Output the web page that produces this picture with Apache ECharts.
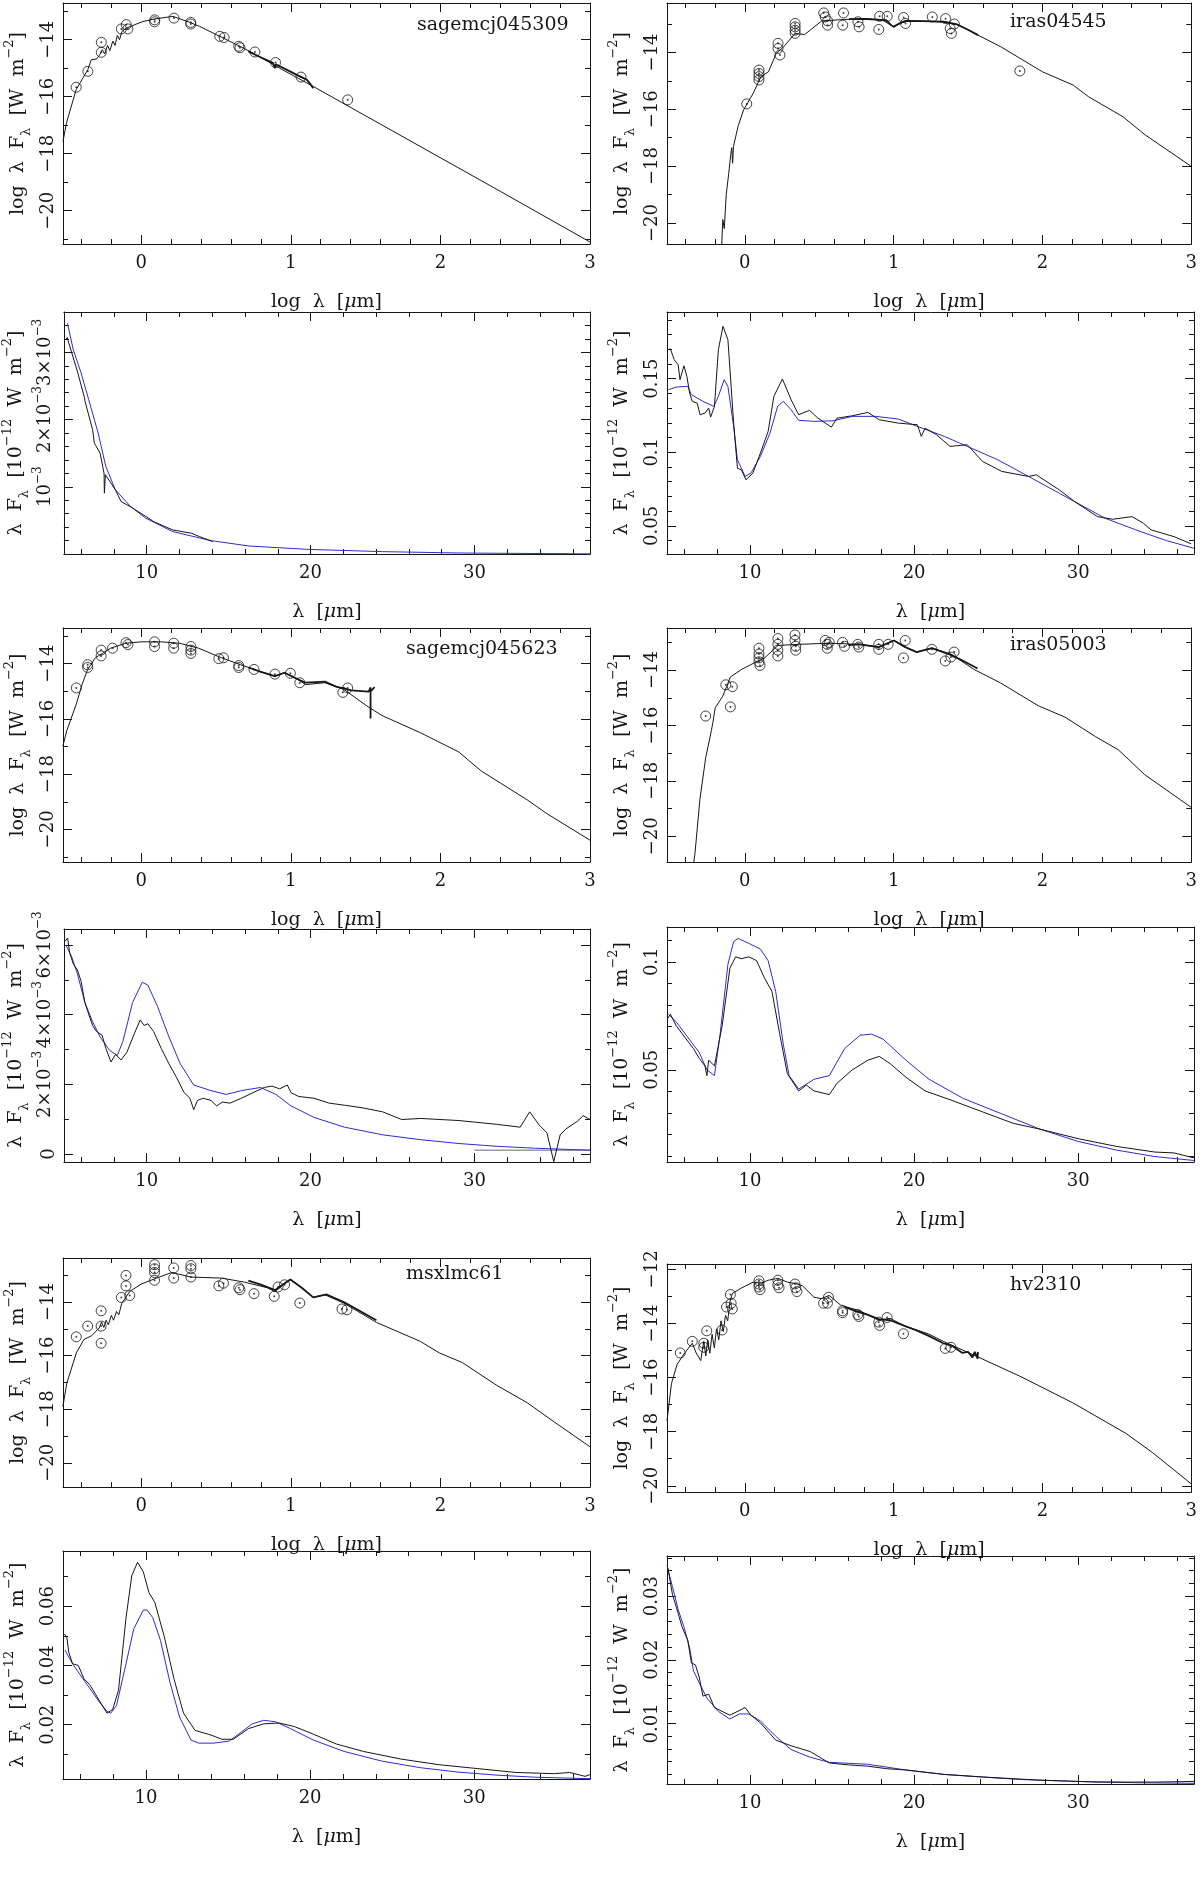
<!DOCTYPE html>
<html>
<head>
<meta charset="utf-8">
<script src="https://cdn.jsdelivr.net/npm/echarts@6/dist/echarts.min.js"></script>
<style>
  html, body { margin: 0; background: #fff; }
  #chart { width: 1200px; height: 1887px; }
</style>
</head>
<body>
<div id="chart"></div>
<script>
// ---------- sagemcj045309 ----------
const sed045309Model = [[-0.523,-17.57],[-0.50,-16.92],[-0.435,-15.75],[-0.357,-15.05],[-0.334,-14.70],[-0.30,-14.68],[-0.28,-14.55],[-0.26,-14.35],[-0.245,-14.5],[-0.225,-14.2],[-0.21,-14.38],[-0.19,-14.05],[-0.175,-14.2],[-0.16,-13.85],[-0.145,-14.0],[-0.13,-13.72],[-0.10,-13.59],[0.011,-13.36],[0.09,-13.27],[0.212,-13.18],[0.324,-13.39],[0.39,-13.53],[0.525,-13.88],[0.659,-14.23],[0.748,-14.47],[0.905,-14.94],[1.15,-15.64],[2.40,-19.32],[3.0,-21.1]];
const sed045309Spec = [[0.715,-14.41],[0.78,-14.57],[0.85,-14.74],[0.882,-14.82],[0.893,-15.0],[0.90,-14.86],[0.994,-15.11],[1.05,-15.26],[1.106,-15.40],[1.13,-15.55],[1.15,-15.70]];
const sed045309Phot = [[-0.435,-15.67],[-0.357,-15.11],[-0.267,-14.09],[-0.267,-14.44],[-0.133,-13.62],[-0.10,-13.47],[-0.089,-13.62],[0.09,-13.30],[0.09,-13.37],[0.219,-13.24],[0.331,-13.39],[0.331,-13.45],[0.525,-13.88],[0.554,-13.92],[0.652,-14.23],[0.66,-14.28],[0.760,-14.43],[0.898,-14.80],[1.068,-15.31],[1.38,-16.11]];
const irs045309Obs = [[5.07,3.19e-3],[5.15,3.22e-3],[5.42,3.0e-3],[5.77,2.72e-3],[6.2,2.33e-3],[6.23,2.28e-3],[6.70,1.85e-3],[6.81,1.65e-3],[7.16,1.50e-3],[7.40,1.2e-3],[7.42,0.905e-3],[7.48,1.18e-3],[8.09,0.955e-3],[8.44,0.78e-3],[9.03,0.70e-3],[9.96,0.557e-3],[10.42,0.483e-3],[11.59,0.358e-3],[12.75,0.308e-3],[13.22,0.259e-3],[14.03,0.184e-3]];
const irs045309Fit = [[5.17,3.43e-3],[5.52,3.04e-3],[5.99,2.70e-3],[6.46,2.30e-3],[7.04,1.80e-3],[7.51,1.30e-3],[8.09,0.955e-3],[9.02,0.706e-3],[9.95,0.532e-3],[11.59,0.333e-3],[13.92,0.199e-3],[16.25,0.119e-3],[19.74,0.070e-3],[24.4,0.035e-3],[29.07,0.015e-3],[37.05,0.002e-3]];

// ---------- iras04545 ----------
const sed04545Model = [[-0.157,-21.0],[-0.154,-20.6],[-0.148,-19.88],[-0.138,-20.2],[-0.125,-19.0],[-0.115,-18.95],[-0.108,-18.25],[-0.095,-17.6],[-0.088,-17.35],[-0.082,-17.9],[-0.076,-17.3],[-0.046,-16.61],[-0.008,-16.02],[0.056,-15.44],[0.108,-14.85],[0.159,-14.68],[0.21,-14.04],[0.261,-13.80],[0.338,-13.33],[0.402,-13.37],[0.517,-12.89],[0.671,-12.84],[0.824,-12.81],[0.927,-12.87],[1.0,-13.10],[1.08,-12.89],[1.336,-12.92],[1.439,-13.04],[1.567,-13.39],[1.72,-13.80],[2.0,-14.68],[2.207,-15.15],[2.31,-15.56],[2.54,-16.26],[2.69,-16.90],[3.0,-18.01]];
const sed04545Spec = [[0.70,-12.83],[0.80,-12.82],[0.90,-12.85],[0.95,-12.86],[0.98,-13.02],[1.0,-13.10],[1.03,-13.0],[1.08,-12.89],[1.2,-12.9],[1.336,-12.92],[1.42,-13.0],[1.5,-13.2],[1.567,-13.39]];
const sed04545Phot = [[0.013,-15.81],[0.095,-14.62],[0.095,-14.74],[0.095,-14.85],[0.095,-14.97],[0.223,-13.68],[0.223,-13.86],[0.236,-14.09],[0.338,-12.98],[0.338,-13.10],[0.338,-13.22],[0.338,-13.33],[0.53,-12.61],[0.54,-12.75],[0.556,-12.89],[0.556,-13.04],[0.658,-13.04],[0.663,-12.61],[0.76,-12.92],[0.768,-13.10],[0.90,-13.19],[0.906,-12.73],[0.957,-12.73],[1.067,-12.77],[1.08,-12.98],[1.26,-12.75],[1.349,-12.81],[1.38,-13.16],[1.388,-13.33],[1.408,-13.0],[1.848,-14.65]];
const irs04545Obs = [[5.0,0.1697],[5.16,0.1702],[5.39,0.1629],[5.63,0.1595],[5.74,0.1493],[5.98,0.1588],[6.16,0.1516],[6.33,0.1402],[6.49,0.1346],[6.79,0.1334],[6.96,0.1255],[7.26,0.1266],[7.49,0.1300],[7.61,0.1239],[7.84,0.1312],[8.08,0.1697],[8.36,0.1856],[8.66,0.1765],[9.01,0.1198],[9.24,0.0892],[9.48,0.0881],[9.76,0.0813],[10.18,0.0858],[10.64,0.0994],[11.11,0.1142],[11.46,0.1380],[11.98,0.1498],[12.51,0.1357],[12.97,0.1255],[13.63,0.1285],[14.14,0.1232],[14.96,0.1171],[15.31,0.1232],[16.24,0.1248],[17.18,0.1271],[17.88,0.1221],[19.04,0.1198],[20.2,0.1187],[20.44,0.1108],[20.67,0.1164],[21.37,0.1119],[22.19,0.1040],[23.24,0.1051],[24.17,0.0938],[25.34,0.0870],[26.97,0.0836],[27.44,0.0847],[28.84,0.0745],[29.77,0.0666],[31.17,0.0563],[32.1,0.0545],[33.27,0.0563],[33.97,0.0518],[34.43,0.0473],[35.83,0.0427],[36.88,0.0378]];
const irs04545Fit = [[5.04,0.1425],[5.51,0.1443],[6.21,0.1448],[6.44,0.1391],[7.14,0.1346],[7.80,0.1312],[8.08,0.1380],[8.43,0.1493],[8.66,0.1448],[9.01,0.1176],[9.24,0.0949],[9.71,0.0836],[10.06,0.0858],[10.64,0.0972],[11.22,0.1130],[11.69,0.1312],[12.04,0.1346],[12.51,0.1289],[12.97,0.1217],[13.91,0.1210],[15.07,0.1214],[16.24,0.1244],[17.64,0.1244],[19.04,0.1226],[20.2,0.1176],[21.84,0.1108],[23.24,0.1040],[25.1,0.0949],[26.97,0.0836],[28.84,0.0722],[30.7,0.0609],[31.63,0.0552],[33.5,0.0473],[35.37,0.0400],[37.05,0.0348]];

// ---------- sagemcj045623 ----------
const sed045623Model = [[-0.524,-16.99],[-0.498,-16.43],[-0.434,-15.46],[-0.396,-14.76],[-0.358,-14.21],[-0.307,-13.79],[-0.204,-13.44],[-0.102,-13.26],[0,-13.21],[0.128,-13.21],[0.256,-13.26],[0.383,-13.44],[0.537,-13.79],[0.665,-14.04],[0.792,-14.28],[0.894,-14.46],[0.958,-14.32],[1.022,-14.49],[1.099,-14.76],[1.227,-14.69],[1.354,-14.93],[1.508,-15.53],[1.61,-15.88],[1.866,-16.5],[2.121,-17.19],[2.274,-17.89],[2.58,-18.93],[2.709,-19.42],[3.0,-20.39]];
const sed045623Spec = [[0.716,-14.14],[0.80,-14.3],[0.894,-14.45],[0.958,-14.33],[1.022,-14.5],[1.099,-14.69],[1.227,-14.65],[1.303,-14.83],[1.405,-14.97],[1.52,-15.01],[1.533,-14.86],[1.533,-15.99],[1.533,-15.0],[1.56,-14.85]];
const sed045623Phot = [[-0.434,-14.88],[-0.358,-14.04],[-0.358,-14.14],[-0.268,-13.51],[-0.268,-13.72],[-0.192,-13.44],[-0.102,-13.24],[-0.089,-13.31],[0.089,-13.21],[0.089,-13.38],[0.217,-13.26],[0.217,-13.44],[0.332,-13.38],[0.332,-13.51],[0.332,-13.63],[0.519,-13.82],[0.55,-13.79],[0.652,-14.07],[0.652,-14.14],[0.754,-14.21],[0.894,-14.38],[0.997,-14.35],[1.06,-14.69],[1.348,-15.04],[1.38,-14.88]];
const irs045623Obs = [[5.02,6.11e-3],[5.18,6.2e-3],[5.3,5.78e-3],[5.53,5.45e-3],[5.77,5.29e-3],[6.0,4.96e-3],[6.23,4.35e-3],[6.46,4.02e-3],[6.7,3.69e-3],[6.93,3.52e-3],[7.28,3.41e-3],[7.51,3.03e-3],[7.82,2.64e-3],[8.1,2.86e-3],[8.44,2.70e-3],[8.79,2.92e-3],[9.26,3.47e-3],[9.61,3.85e-3],[9.84,3.69e-3],[10.07,3.74e-3],[10.42,3.52e-3],[10.89,3.03e-3],[11.36,2.59e-3],[11.82,2.20e-3],[12.29,1.76e-3],[12.64,1.60e-3],[12.87,1.27e-3],[13.1,1.54e-3],[13.45,1.60e-3],[13.92,1.54e-3],[14.27,1.38e-3],[14.62,1.49e-3],[15.08,1.46e-3],[15.78,1.60e-3],[16.48,1.76e-3],[17.18,1.91e-3],[17.65,1.95e-3],[18.11,1.87e-3],[18.58,1.98e-3],[18.81,1.76e-3],[19.28,1.65e-3],[20.21,1.60e-3],[21.14,1.46e-3],[22.07,1.40e-3],[23.24,1.32e-3],[24.4,1.21e-3],[25.56,0.99e-3],[26.73,1.02e-3],[29.06,0.96e-3],[31.39,0.85e-3],[32.79,0.77e-3],[33.37,1.21e-3],[33.95,0.83e-3],[34.42,0.61e-3],[34.84,-0.22e-3],[35.23,0.55e-3],[35.58,0.72e-3],[36.28,0.94e-3],[36.63,1.10e-3],[37.05,0.99e-3]];
const irs045623Fit = [[5.07,6.0e-3],[5.42,5.67e-3],[5.77,5.18e-3],[6.23,4.35e-3],[6.7,3.80e-3],[7.16,3.36e-3],[7.75,2.97e-3],[8.21,2.83e-3],[8.56,3.25e-3],[9.14,4.35e-3],[9.73,4.93e-3],[10.07,4.85e-3],[10.66,4.24e-3],[11.36,3.36e-3],[12.05,2.59e-3],[12.87,1.98e-3],[13.92,1.82e-3],[14.85,1.71e-3],[15.78,1.82e-3],[16.95,1.91e-3],[17.88,1.71e-3],[18.81,1.38e-3],[20.21,1.05e-3],[22.07,0.77e-3],[24.4,0.55e-3],[26.73,0.41e-3],[29.06,0.30e-3],[31.39,0.22e-3],[33.72,0.165e-3],[37.05,0.11e-3]];
const irs045623Base = [[30.0,0.11e-3],[37.05,0.11e-3]];

// ---------- iras05003 ----------
const sed05003Model = [[-0.345,-21.0],[-0.335,-20.62],[-0.302,-18.68],[-0.263,-17.16],[-0.225,-16.19],[-0.215,-15.9],[-0.199,-15.36],[-0.148,-14.94],[-0.097,-14.25],[-0.02,-13.97],[0.056,-13.76],[0.133,-13.56],[0.222,-13.11],[0.363,-13.07],[0.567,-13.03],[0.772,-13.07],[0.9,-13.17],[1.002,-12.93],[1.078,-13.17],[1.155,-13.35],[1.257,-13.21],[1.385,-13.42],[1.538,-13.97],[1.717,-14.46],[1.973,-15.29],[2.152,-15.70],[2.356,-16.40],[2.51,-16.88],[2.688,-17.78],[3.0,-18.96]];
const sed05003Spec = [[0.695,-13.1],[0.772,-13.07],[0.9,-13.17],[1.002,-12.93],[1.078,-13.17],[1.155,-13.35],[1.257,-13.21],[1.385,-13.45],[1.45,-13.62],[1.564,-13.94]];
const sed05003Phot = [[-0.263,-15.66],[-0.128,-14.53],[-0.084,-14.60],[-0.097,-15.33],[0.095,-13.21],[0.095,-13.42],[0.095,-13.56],[0.095,-13.70],[0.102,-13.83],[0.222,-12.86],[0.222,-13.07],[0.222,-13.28],[0.222,-13.49],[0.337,-12.73],[0.337,-12.93],[0.342,-13.14],[0.342,-13.28],[0.54,-12.93],[0.554,-13.07],[0.554,-13.21],[0.567,-13.0],[0.657,-13.0],[0.67,-13.14],[0.759,-13.07],[0.766,-13.17],[0.9,-13.07],[0.9,-13.25],[0.963,-13.07],[1.066,-13.56],[1.078,-12.93],[1.257,-13.25],[1.347,-13.67],[1.385,-13.53],[1.406,-13.35]];
const irs05003Obs = [[5.0,0.0739],[5.16,0.0757],[5.51,0.0704],[5.86,0.0668],[6.21,0.0633],[6.56,0.0598],[6.91,0.0553],[7.26,0.0518],[7.38,0.0473],[7.49,0.0544],[7.84,0.0518],[8.31,0.0704],[8.78,0.0970],[9.13,0.1023],[9.48,0.1014],[9.94,0.1023],[10.41,0.1005],[10.88,0.0926],[11.34,0.0863],[11.81,0.0668],[12.28,0.0482],[12.97,0.0402],[13.44,0.0429],[13.91,0.0402],[14.84,0.0385],[15.31,0.0438],[16.24,0.050],[17.18,0.0544],[17.88,0.0562],[18.57,0.0527],[19.51,0.0465],[20.67,0.0402],[22.31,0.0358],[24.17,0.0305],[26.04,0.0252],[27.67,0.0225],[30.0,0.0181],[32.34,0.0145],[34.67,0.0119],[35.83,0.0115],[37.05,0.0092]];
const irs05003Fit = [[5.04,0.0757],[5.51,0.0722],[6.21,0.0651],[6.91,0.0580],[7.38,0.050],[7.84,0.0473],[8.19,0.0668],[8.66,0.0988],[9.01,0.1094],[9.29,0.1108],[9.94,0.1085],[10.64,0.1059],[11.11,0.1005],[11.57,0.0863],[12.04,0.0615],[12.39,0.0473],[12.97,0.0411],[13.91,0.0456],[14.84,0.0473],[15.77,0.0598],[16.71,0.0660],[17.41,0.0665],[18.11,0.0642],[19.51,0.0544],[20.91,0.0456],[23.0,0.0367],[25.34,0.0296],[27.67,0.0225],[30.0,0.0168],[32.34,0.0128],[34.67,0.0098],[37.05,0.0080]];

// ---------- msxlmc61 ----------
const sedLmc61Model = [[-0.524,-17.9],[-0.498,-17.04],[-0.434,-15.9],[-0.383,-15.4],[-0.332,-15.26],[-0.281,-14.97],[-0.265,-14.75],[-0.25,-14.95],[-0.235,-14.68],[-0.22,-14.85],[-0.2,-14.5],[-0.185,-14.68],[-0.165,-14.35],[-0.15,-14.48],[-0.13,-14.05],[-0.1,-13.8],[-0.077,-13.61],[0,-13.33],[0.102,-13.11],[0.204,-12.9],[0.332,-13.07],[0.537,-13.11],[0.69,-13.26],[0.843,-13.47],[0.894,-13.61],[0.997,-13.16],[1.073,-13.47],[1.15,-13.83],[1.227,-13.73],[1.354,-14.04],[1.572,-14.76],[1.866,-15.47],[1.993,-15.9],[2.147,-16.26],[2.377,-17.11],[2.581,-17.76],[2.76,-18.47],[3.0,-19.4]];
const sedLmc61Spec = [[0.716,-13.2],[0.80,-13.35],[0.894,-13.56],[0.94,-13.38],[0.997,-13.16],[1.073,-13.47],[1.15,-13.83],[1.24,-13.72],[1.354,-14.0],[1.45,-14.3],[1.572,-14.68]];
const sedLmc61Phot = [[-0.434,-15.3],[-0.358,-14.9],[-0.268,-14.33],[-0.268,-14.9],[-0.268,-15.54],[-0.133,-13.83],[-0.102,-13.01],[-0.102,-13.4],[-0.077,-13.76],[0.089,-12.61],[0.089,-12.76],[0.089,-12.9],[0.089,-13.19],[0.217,-12.73],[0.217,-13.11],[0.332,-12.64],[0.332,-12.76],[0.332,-13.07],[0.519,-13.4],[0.55,-13.3],[0.652,-13.47],[0.66,-13.54],[0.754,-13.69],[0.889,-13.79],[0.915,-13.44],[0.958,-13.36],[1.06,-14.04],[1.342,-14.26],[1.375,-14.29]];
const irsLmc61Obs = [[5.02,0.0506],[5.18,0.0497],[5.3,0.0445],[5.53,0.0406],[5.88,0.040],[6.23,0.0355],[6.58,0.0335],[6.93,0.0303],[7.28,0.0271],[7.63,0.0239],[7.98,0.0252],[8.33,0.0316],[8.79,0.0561],[9.14,0.0703],[9.49,0.0748],[9.84,0.0716],[10.19,0.0645],[10.54,0.0613],[11.12,0.0497],[11.71,0.0355],[12.29,0.0239],[12.99,0.0181],[13.8,0.0168],[14.03,0.0164],[14.62,0.0151],[15.32,0.0151],[16.25,0.0187],[17.18,0.0203],[18.11,0.0206],[19.04,0.0194],[20.21,0.0168],[21.6,0.0135],[23.24,0.011],[25.56,0.0084],[27.89,0.0065],[30.22,0.0052],[32.55,0.0039],[34.88,0.0035],[35.81,0.0039],[36.75,0.0026],[37.05,0.0032]];
const irsLmc61Fit = [[5.07,0.0452],[5.53,0.0406],[6.0,0.0368],[6.58,0.0323],[7.16,0.0277],[7.63,0.0245],[7.86,0.0239],[8.21,0.0265],[8.79,0.0406],[9.26,0.0523],[9.84,0.0587],[10.07,0.0587],[10.42,0.0561],[10.89,0.0484],[11.47,0.0342],[12.05,0.0226],[12.75,0.0148],[13.22,0.0138],[14.15,0.0138],[15.08,0.0145],[15.78,0.0174],[16.48,0.0203],[17.18,0.0215],[17.88,0.021],[18.81,0.0187],[20.21,0.0148],[22.07,0.011],[24.4,0.0077],[26.73,0.0055],[29.06,0.004],[31.39,0.003],[33.72,0.0023],[37.05,0.0018]];

// ---------- hv2310 ----------
const sedHv2310Model = [[-0.523,-17.6],[-0.493,-16.22],[-0.455,-15.51],[-0.404,-15.09],[-0.353,-14.73],[-0.327,-15.09],[-0.296,-15.37],[-0.276,-14.66],[-0.262,-15.2],[-0.25,-14.6],[-0.235,-15.1],[-0.22,-14.4],[-0.205,-14.9],[-0.19,-14.2],[-0.175,-14.6],[-0.16,-13.9],[-0.145,-14.3],[-0.13,-13.7],[-0.115,-13.9],[-0.1,-13.2],[-0.084,-12.89],[-0.02,-12.68],[0.056,-12.47],[0.107,-12.51],[0.159,-12.4],[0.222,-12.33],[0.286,-12.47],[0.35,-12.54],[0.388,-12.61],[0.465,-13.03],[0.516,-13.08],[0.567,-12.96],[0.644,-13.32],[0.772,-13.53],[0.9,-13.88],[0.976,-13.81],[1.078,-14.1],[1.232,-14.38],[1.334,-14.66],[1.564,-15.23],[1.845,-15.94],[2.203,-16.93],[2.56,-18.06],[2.739,-18.77],[3.0,-19.93]];
const sedHv2310Spec = [[0.67,-13.39],[0.75,-13.55],[0.823,-13.67],[0.9,-13.84],[0.976,-13.88],[1.078,-14.1],[1.15,-14.25],[1.232,-14.45],[1.334,-14.73],[1.4,-14.85],[1.462,-15.09],[1.5,-15.05],[1.53,-15.25],[1.545,-15.05],[1.564,-15.3],[1.566,-15.05]];
const sedHv2310Phot = [[-0.434,-15.09],[-0.353,-14.66],[-0.276,-14.73],[-0.276,-14.88],[-0.256,-14.27],[-0.153,-14.24],[-0.123,-13.39],[-0.097,-12.93],[-0.092,-13.25],[-0.084,-13.46],[0.095,-12.42],[0.095,-12.54],[0.095,-12.65],[0.102,-12.75],[0.222,-12.4],[0.222,-12.57],[0.23,-12.68],[0.337,-12.54],[0.342,-12.68],[0.35,-12.82],[0.529,-13.25],[0.555,-13.25],[0.562,-13.03],[0.657,-13.53],[0.657,-13.6],[0.759,-13.67],[0.766,-13.74],[0.9,-13.95],[0.906,-14.07],[0.956,-13.78],[1.066,-14.38],[1.347,-14.92],[1.385,-14.88]];
const irsHv2310Obs = [[5.0,0.0345],[5.28,0.0303],[5.63,0.0273],[5.86,0.0252],[6.21,0.0231],[6.44,0.0195],[6.68,0.0192],[6.91,0.0173],[7.14,0.0143],[7.49,0.0146],[7.84,0.0125],[8.78,0.0113],[9.48,0.0122],[9.71,0.0125],[10.06,0.0113],[10.64,0.0101],[11.57,0.0074],[12.51,0.0065],[13.67,0.0056],[14.84,0.0038],[16.01,0.0035],[17.17,0.0033],[18.34,0.0029],[19.5,0.0027],[21.84,0.002],[24.17,0.0016],[27.67,0.0011],[31.17,0.0008],[34.67,0.0008],[37.05,0.0009]];
const irsHv2310Fit = [[4.95,0.0348],[5.28,0.0315],[5.63,0.0279],[5.98,0.0252],[6.33,0.0219],[6.56,0.0183],[6.91,0.0164],[7.38,0.014],[8.08,0.0119],[8.78,0.0107],[9.36,0.0115],[9.94,0.0115],[10.64,0.0104],[11.57,0.008],[12.51,0.0059],[13.67,0.0047],[14.84,0.0039],[17.17,0.0036],[19.5,0.0027],[21.84,0.002],[24.17,0.0016],[26.5,0.0012],[30.0,0.0009],[33.5,0.0007],[37.05,0.0006]];

// tick label values
const sedXLabels = [0, 1, 2, 3];
const irsXLabels = [10, 20, 30];

const FONT = 'DejaVu Serif';
const INK = '#161616';
const BLUE = '#2c2cd6';

function steps(a, b, s) {
  const out = [];
  const n = Math.round((b - a) / s);
  for (let i = 0; i <= n; i++) out.push(+(a + i * s).toFixed(6));
  return out;
}
function without(arr, rem) {
  return arr.filter(v => !rem.some(r => Math.abs(r - v) < 1e-9));
}
const neg = v => (v < 0 ? '\u2212' : '') + Math.abs(v);
const sci = v => {
  if (Math.abs(v) < 1e-12) return '0';
  const m = Math.round(v * 1000);
  return m === 1 ? '{b|10}{s|\u22123}' : '{b|' + m + '\u00d710}{s|\u22123}';
};

const cols = [{ left: 63, width: 527 }, { left: 667, width: 527 }];

const sedXMajor = sedXLabels;
const sedXMinor = without(steps(-0.4, 2.8, 0.2), sedXMajor);
const irsXMajor = irsXLabels;
const irsXMinor = without(steps(6, 36, 2), irsXMajor);

const panels = [
  { kind: 'sed', col: 0, top: 3, height: 241, y: [-21.17, -12.71], yMajor: [-20, -18, -16, -14], yMinor: [-21, -19, -17, -15, -13], name: 'sagemcj045309', namePos: [354, 25], model: sed045309Model, spec: sed045309Spec, phot: sed045309Phot },
  { kind: 'sed', col: 1, top: 3, height: 241, y: [-20.74, -12.26], yMajor: [-20, -18, -16, -14], yMinor: [-19, -17, -15, -13], name: 'iras04545', namePos: [343, 22], model: sed04545Model, spec: sed04545Spec, phot: sed04545Phot },
  { kind: 'irs', col: 0, top: 312, height: 242, y: [0, 3.6e-3], yMajor: [0, 1e-3, 2e-3, 3e-3], yLabels: [1e-3, 2e-3, 3e-3], yMinor: without(steps(0, 3.6e-3, 2e-4), [0, 1e-3, 2e-3, 3e-3]), fmt: sci, obs: irs045309Obs, fit: irs045309Fit },
  { kind: 'irs', col: 1, top: 312, height: 242, y: [0.0309, 0.1953], yMajor: [0.05, 0.1, 0.15], yLabels: [0.05, 0.1, 0.15], yMinor: without(steps(0.04, 0.19, 0.01), [0.05, 0.1, 0.15]), fmt: String, obs: irs04545Obs, fit: irs04545Fit },
  { kind: 'sed', col: 0, top: 628, height: 234, y: [-21.18, -12.71], yMajor: [-20, -18, -16, -14], yMinor: [-21, -19, -17, -15, -13], name: 'sagemcj045623', namePos: [343, 24], model: sed045623Model, spec: sed045623Spec, phot: sed045623Phot },
  { kind: 'sed', col: 1, top: 628, height: 234, y: [-20.93, -12.48], yMajor: [-20, -18, -16, -14], yMinor: [-19, -17, -15, -13], name: 'iras05003', namePos: [343, 20], model: sed05003Model, spec: sed05003Spec, phot: sed05003Phot },
  { kind: 'irs', col: 0, top: 929, height: 233, y: [-0.23e-3, 6.46e-3], yMajor: [0, 2e-3, 4e-3, 6e-3], yLabels: [0, 2e-3, 4e-3, 6e-3], yMinor: [1e-3, 3e-3, 5e-3], fmt: sci, obs: irs045623Obs, fit: irs045623Fit, base: irs045623Base },
  { kind: 'irs', col: 1, top: 927, height: 235, y: [0.0073, 0.1161], yMajor: [0.05, 0.1], yLabels: [0.05, 0.1], yMinor: without(steps(0.01, 0.11, 0.01), [0.05, 0.1]), fmt: String, obs: irs05003Obs, fit: irs05003Fit },
  { kind: 'sed', col: 0, top: 1258, height: 229, y: [-20.9, -12.36], yMajor: [-20, -18, -16, -14], yMinor: [-19, -17, -15, -13], name: 'msxlmc61', namePos: [343, 19], model: sedLmc61Model, spec: sedLmc61Spec, phot: sedLmc61Phot },
  { kind: 'sed', col: 1, top: 1264, height: 228, y: [-20.23, -11.80], yMajor: [-20, -18, -16, -14, -12], yMinor: [-19, -17, -15, -13], name: 'hv2310', namePos: [343, 24], model: sedHv2310Model, spec: sedHv2310Spec, phot: sedHv2310Phot },
  { kind: 'irs', col: 0, top: 1551, height: 228, y: [0.0017, 0.0786], yMajor: [0.02, 0.04, 0.06], yLabels: [0.02, 0.04, 0.06], yMinor: [0.01, 0.03, 0.05, 0.07], fmt: String, obs: irsLmc61Obs, fit: irsLmc61Fit },
  { kind: 'irs', col: 1, top: 1556, height: 228, y: [0.0005, 0.0363], yMajor: [0.01, 0.02, 0.03], yLabels: [0.01, 0.02, 0.03], yMinor: without(steps(0.002, 0.036, 0.002), [0.01, 0.02, 0.03]), fmt: String, obs: irsHv2310Obs, fit: irsHv2310Fit }
];

const txt = { fontFamily: FONT, color: INK, fontSize: 18 };
const nameRich = {
  n: { fontFamily: FONT, color: INK, fontSize: 19, lineHeight: 30 },
  i: { fontFamily: FONT, color: INK, fontSize: 19, lineHeight: 30, fontStyle: 'italic' },
  sb: { fontFamily: FONT, color: INK, fontSize: 13, lineHeight: 12, verticalAlign: 'bottom' },
  sp: { fontFamily: FONT, color: INK, fontSize: 13, lineHeight: 12, verticalAlign: 'top' }
};
const labelRich = {
  b: { fontFamily: FONT, color: INK, fontSize: 18, lineHeight: 26 },
  s: { fontFamily: FONT, color: INK, fontSize: 12, lineHeight: 11, verticalAlign: 'top' }
};

const grids = [], xAxes = [], yAxes = [], series = [], texts = [];

function axisSet(g, min, max, major, minor, labels, fmt, sides, opts) {
  const list = [];
  sides.forEach((pos, k) => {
    const base = {
      gridIndex: g, type: 'value', position: pos, min, max, scale: true,
      splitLine: { show: false }, axisPointer: { show: false }, silent: true
    };
    list.push(Object.assign({}, base, {
      axisLine: { show: true, onZero: false, lineStyle: { color: INK, width: 1 } },
      axisTick: { show: true, inside: true, length: 9, customValues: major, lineStyle: { color: INK, width: 1 } },
      axisLabel: k === 0 ? Object.assign({ show: true, customValues: labels, formatter: fmt, rich: labelRich }, txt, opts.label) : { show: false }
    }, k === 0 ? opts.name : {}));
    list.push(Object.assign({}, base, {
      axisLine: { show: false, onZero: false },
      axisTick: { show: true, inside: true, length: 5, customValues: minor, lineStyle: { color: INK, width: 1 } },
      axisLabel: { show: false }
    }));
  });
  return list;
}

panels.forEach((p, g) => {
  const c = cols[p.col];
  grids.push({ left: c.left, top: p.top, width: c.width, height: p.height, containLabel: false });
  const isSed = p.kind === 'sed';
  const xName = isSed ? '{n|log  \u03bb  [}{i|\u03bc}{n|m]}' : '{n|\u03bb  [}{i|\u03bc}{n|m]}';
  const yName = isSed
    ? '{n|log  \u03bb  F}{sb|\u03bb}{n|  [W  m}{sp|\u22122}{n|]}'
    : '{n|\u03bb  F}{sb|\u03bb}{n|  [10}{sp|\u221212}{n|  W  m}{sp|\u22122}{n|]}';
  const xa = axisSet(g, isSed ? -0.523 : 4.95, isSed ? 3 : 37.05,
    isSed ? sedXMajor : irsXMajor, isSed ? sedXMinor : irsXMinor,
    isSed ? sedXLabels : irsXLabels, v => String(v), ['bottom', 'top'],
    { label: { margin: 10 }, name: { name: xName, nameLocation: 'middle', nameGap: 43, nameTextStyle: { rich: nameRich } } });
  const ya = axisSet(g, p.y[0], p.y[1], p.yMajor, p.yMinor,
    p.yLabels || p.yMajor, isSed ? neg : p.fmt, ['left', 'right'],
    { label: { margin: 6, rotate: 90 }, name: { name: yName, nameLocation: 'middle', nameGap: 30, nameRotate: 90, nameTextStyle: { rich: nameRich } } });
  const xi = xAxes.length, yi = yAxes.length;
  xAxes.push(...xa);
  yAxes.push(...ya);

  const line = (data, color, width) => ({
    type: 'line', xAxisIndex: xi, yAxisIndex: yi, data, symbol: 'none', showSymbol: false,
    lineStyle: { color, width }, silent: true, clip: true, z: 3
  });
  if (isSed) {
    series.push(line(p.model, INK, 1));
    series.push(line(p.spec, INK, 1.8));
    series.push({
      type: 'scatter', xAxisIndex: xi, yAxisIndex: yi, data: p.phot, symbol: 'circle', symbolSize: 10,
      itemStyle: { color: 'rgba(0,0,0,0)', borderColor: INK, borderWidth: 1 }, silent: true, z: 4
    });
    series.push({
      type: 'scatter', xAxisIndex: xi, yAxisIndex: yi, data: p.phot, symbol: 'circle', symbolSize: 2,
      itemStyle: { color: INK }, silent: true, z: 4
    });
    texts.push({
      type: 'text', left: c.left + p.namePos[0], top: p.top + p.namePos[1] - 12,
      style: { text: p.name, font: '19px "' + FONT + '"', fill: INK }
    });
  } else {
    if (p.base) series.push(line(p.base, '#9a9a9a', 1.5));
    series.push(line(p.fit, BLUE, 1));
    series.push(line(p.obs, INK, 1));
  }
});

const chart = echarts.init(document.getElementById('chart'), null, { renderer: 'canvas' });
chart.setOption({
  animation: false,
  backgroundColor: '#ffffff',
  grid: grids,
  xAxis: xAxes,
  yAxis: yAxes,
  series: series,
  graphic: texts
});
</script>
</body>
</html>
